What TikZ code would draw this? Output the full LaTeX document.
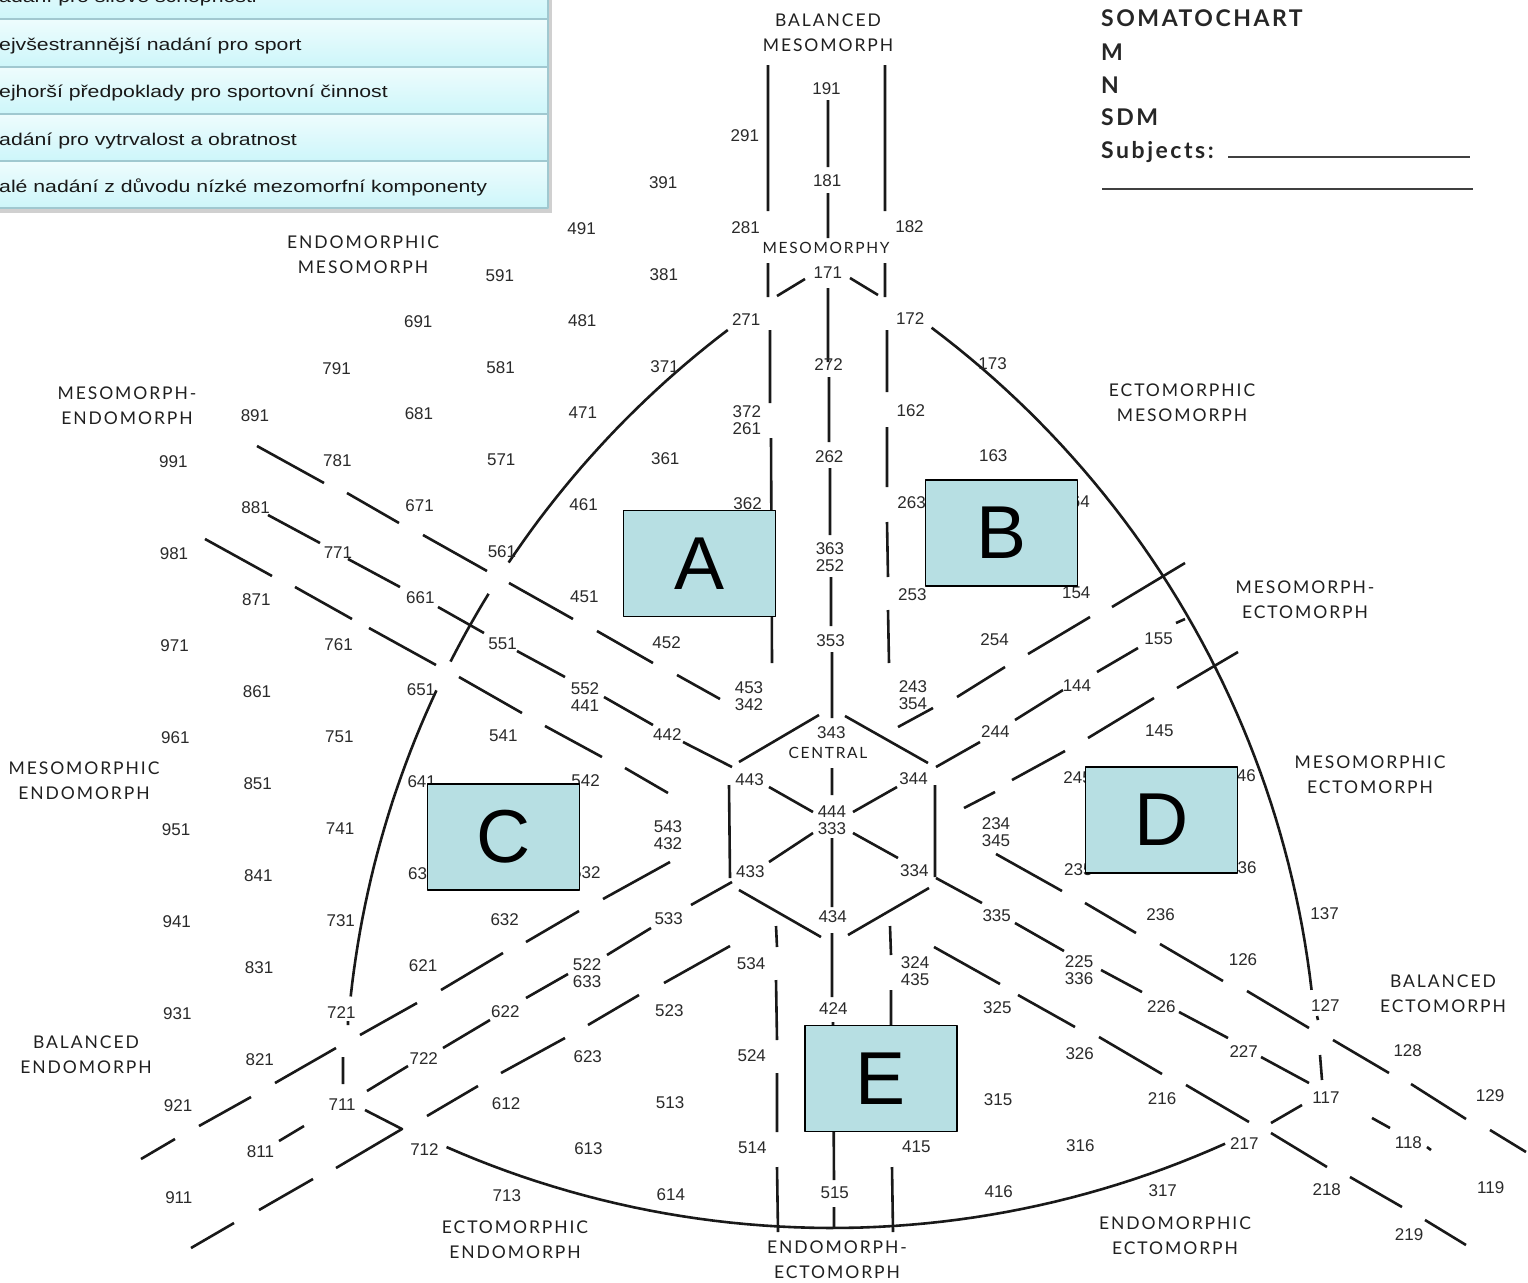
\documentclass[tikz,border=0pt]{standalone}
\usepackage{fontspec}
\usepackage{pgf,tikz}
\usepackage{graphicx}
\setmainfont{Liberation Sans}
\newfontfamily\gillfont[LetterSpace=11]{Lato}

\definecolor{inkline}{RGB}{25,25,25}
\definecolor{numgray}{RGB}{42,42,42}
\definecolor{zonegray}{RGB}{32,32,32}
\definecolor{boxfill}{RGB}{183,223,227}
\definecolor{rowtop}{RGB}{238,252,253}
\definecolor{rowbottom}{RGB}{205,246,250}
\definecolor{rowline}{RGB}{160,200,208}

\tikzset{
  chartline/.style={draw=inkline, line width=2.6pt},
  num/.style={font=\fontsize{17}{17}\selectfont, text=numgray, inner sep=0pt},
  numtwo/.style={num, align=center, yshift=-8.5pt},
  zone/.style={font=\gillfont\fontsize{17.5}{25}\selectfont, text=zonegray, align=center, inner sep=0pt},
  letterbox/.style={draw=black, line width=1.8pt, fill=boxfill, minimum width=152pt, minimum height=106pt, inner sep=0pt, font=\fontsize{75}{75}\selectfont},
  tablerow/.style={draw=rowline, line width=1.2pt, top color=rowtop, bottom color=rowbottom},
  rowtext/.style={anchor=base west, inner sep=0pt, font=\fontsize{17}{18}\selectfont, text=black!90},
  headline/.style={anchor=west, inner sep=0pt, font=\gillfont\bfseries\fontsize{23}{25}\selectfont, text=black!85}
}

\begin{document}
\begin{tikzpicture}[line cap=butt,line join=round,x=1pt,y=-1pt]
\useasboundingbox (0,0) rectangle (1528,1282);
\clip (0,0) rectangle (1528,1282);
\fill[white] (0,0) rectangle (1528,1282);

% outer arcs
\draw[chartline] plot[domain=-127.2:-146.2, samples=25] ({1313+968*cos(\x)},{1101+968*sin(\x)});
\draw[chartline] plot[domain=-148.4:-153.0, samples=8] ({1313+968*cos(\x)},{1101+968*sin(\x)});
\draw[chartline] plot[domain=-154.9:-173.8, samples=25] ({1313+968*cos(\x)},{1101+968*sin(\x)});
\draw[chartline] plot[domain=-53.1:-6.6, samples=50] ({351+967*cos(\x)},{1101+967*sin(\x)});
\draw[chartline] plot[domain=113.7:65.8, samples=50] ({832+959*cos(\x)},{269+959*sin(\x)});

% vertical lines
\draw[chartline] (828,100)--(828,167) (828,193)--(828,238) (828,288)--(828,362) (829,377)--(829,442)
  (830,468)--(830,535) (831,577)--(831,626) (832,652)--(832,718) (832,768)--(832,795)
  (832,838)--(832,907) (832,933)--(832,997) (833,1022)--(834,1180) (834,1207)--(834,1228);
\draw[chartline] (768,65)--(768,211) (768,263)--(768,297) (770,330)--(770,403) (771,438)--(772,663);
\draw[chartline] (885,65)--(885,211) (885,263)--(885,297) (887,330)--(887,392) (887,427)--(887,487)
  (887,522)--(888,577) (888,610)--(889,663);
\draw[chartline] (777,296)--(805,279) (850,278)--(878,295);
\draw[chartline] (776,926)--(777,947) (776,980)--(777,1040) (777,1073)--(777,1132) (777,1167)--(778,1232);
\draw[chartline] (890,926)--(891,955) (891,990)--(891,1100) (892,1167)--(893,1232);

% central hexagon
\draw[chartline] (739,762)--(819,715) (845,716)--(928,763) (729,785)--(730,878)
  (935,785)--(935,877) (739,890)--(821,937) (848,935)--(929,888);

% lines falling to the right
\draw[chartline] (257,446)--(324,483) (347,493)--(399,523) (423,535)--(487,571) (509,583)--(573,619)
  (597,631)--(653,663) (677,675)--(720,699);
\draw[chartline] (996,854)--(1062,891) (1085,903)--(1136,933) (1160,944)--(1223,981) (1247,991)--(1309,1028)
  (1333,1040)--(1389,1073) (1411,1084)--(1466,1119) (1490,1130)--(1526,1152);
\draw[chartline] (268,515)--(320,543) (348,559)--(400,587) (438,607)--(484,633) (517,651)--(565,677)
  (604,697)--(653,725) (683,742)--(732,767) (769,787)--(813,812) (853,833)--(898,858)
  (936,878)--(982,903) (1015,923)--(1064,951) (1101,970)--(1142,992) (1179,1012)--(1228,1038)
  (1261,1057)--(1309,1083) (1372,1118)--(1390,1128) (1427,1147)--(1431,1150);
\draw[chartline] (205,539)--(272,576) (295,587)--(352,619) (369,628)--(436,665) (459,677)--(522,713)
  (545,726)--(602,757) (625,768)--(668,793);
\draw[chartline] (934,947)--(1000,984) (1018,995)--(1075,1027) (1099,1037)--(1162,1074) (1186,1085)--(1249,1122)
  (1271,1133)--(1327,1167) (1350,1177)--(1402,1207) (1425,1220)--(1466,1245);

% lines rising to the right
\draw[chartline] (279,1141)--(304,1126) (367,1091)--(408,1066) (443,1048)--(490,1020) (526,998)--(568,974)
  (607,955)--(651,928) (691,905)--(732,882) (769,862)--(813,833) (853,812)--(897,787)
  (936,767)--(980,742) (1015,720)--(1063,690) (1097,672)--(1138,648) (1176,623)--(1185,619);
\draw[chartline] (141,1159)--(175,1139) (199,1126)--(251,1097) (275,1083)--(336,1048) (360,1035)--(417,1003)
  (441,990)--(503,953) (526,942)--(579,911) (603,899)--(670,862);
\draw[chartline] (898,727)--(933,708) (957,697)--(1005,667) (1028,654)--(1090,617) (1112,607)--(1185,563);
\draw[chartline] (191,1248)--(234,1223) (259,1210)--(313,1179) (427,1116)--(478,1086) (501,1073)--(565,1038)
  (588,1025)--(639,995) (664,983)--(730,946);
\draw[chartline] (365,1110)--(402,1129)--(336,1168);
\draw[chartline] (964,808)--(995,792) (1012,780)--(1065,751) (1088,738)--(1154,698) (1177,688)--(1238,652);

% corner pieces
\draw[chartline] (343,1057)--(343,1084) (348,1021)--(348,1025) (1320,1055)--(1322,1080)
  (1317,1016)--(1318,1020) (1302,1105)--(1271,1123);

% somatotype numbers
\begin{scope}[rotate around={0.43:(832,825)}]
\draw (832,89) node[num] (n191) {191};
\draw (750,135) node[num] (n291) {291};
\draw (668,181) node[num] (n391) {391};
\draw (832,181) node[num] (n181) {181};
\draw (586,227) node[num] (n491) {491};
\draw (750,227) node[num] (n281) {281};
\draw (914,227) node[num] (n182) {182};
\draw (504,273) node[num] (n591) {591};
\draw (668,273) node[num] (n381) {381};
\draw (832,273) node[num] (n171) {171};
\draw (422,319) node[num] (n691) {691};
\draw (586,319) node[num] (n481) {481};
\draw (750,319) node[num] (n271) {271};
\draw (914,319) node[num] (n172) {172};
\draw (340,365) node[num] (n791) {791};
\draw (504,365) node[num] (n581) {581};
\draw (668,365) node[num] (n371) {371};
\draw (832,365) node[num] (n272) {272};
\draw (996,365) node[num] (n173) {173};
\draw (258,411) node[num] (n891) {891};
\draw (422,411) node[num] (n681) {681};
\draw (586,411) node[num] (n471) {471};
\draw (750,411) node[numtwo] (n372) {372\\261};
\draw (914,411) node[num] (n162) {162};
\draw (176,457) node[num] (n991) {991};
\draw (340,457) node[num] (n781) {781};
\draw (504,457) node[num] (n571) {571};
\draw (668,457) node[num] (n361) {361};
\draw (832,457) node[num] (n262) {262};
\draw (996,457) node[num] (n163) {163};
\draw (258,503) node[num] (n881) {881};
\draw (422,503) node[num] (n671) {671};
\draw (586,503) node[num] (n461) {461};
\draw (750,503) node[num] (n362) {362};
\draw (914,503) node[num] (n263) {263};
\draw (1078,503) node[num] (n164) {164};
\draw (176,549) node[num] (n981) {981};
\draw (340,549) node[num] (n771) {771};
\draw (504,549) node[num] (n561) {561};
\draw (832,549) node[numtwo] (n363) {363\\252};
\draw (258,595) node[num] (n871) {871};
\draw (422,595) node[num] (n661) {661};
\draw (586,595) node[num] (n451) {451};
\draw (914,595) node[num] (n253) {253};
\draw (1078,595) node[num] (n154) {154};
\draw (176,641) node[num] (n971) {971};
\draw (340,641) node[num] (n761) {761};
\draw (504,641) node[num] (n551) {551};
\draw (668,641) node[num] (n452) {452};
\draw (832,641) node[num] (n353) {353};
\draw (996,641) node[num] (n254) {254};
\draw (1160,641) node[num] (n155) {155};
\draw (258,687) node[num] (n861) {861};
\draw (422,687) node[num] (n651) {651};
\draw (586,687) node[numtwo] (n552) {552\\441};
\draw (750,687) node[numtwo] (n453) {453\\342};
\draw (914,687) node[numtwo] (n243) {243\\354};
\draw (1078,687) node[num] (n144) {144};
\draw (176,733) node[num] (n961) {961};
\draw (340,733) node[num] (n751) {751};
\draw (504,733) node[num] (n541) {541};
\draw (668,733) node[num] (n442) {442};
\draw (832,733) node[num] (n343) {343};
\draw (996,733) node[num] (n244) {244};
\draw (1160,733) node[num] (n145) {145};
\draw (258,779) node[num] (n851) {851};
\draw (422,779) node[num] (n641) {641};
\draw (586,779) node[num] (n542) {542};
\draw (750,779) node[num] (n443) {443};
\draw (914,779) node[num] (n344) {344};
\draw (1078,779) node[num] (n245) {245};
\draw (1242,779) node[num] (n146) {146};
\draw (176,825) node[num] (n951) {951};
\draw (340,825) node[num] (n741) {741};
\draw (668,825) node[numtwo] (n543) {543\\432};
\draw (832,820) node[num,align=center] (n444) {444\\333};
\draw (996,825) node[numtwo] (n234) {234\\345};
\draw (258,871) node[num] (n841) {841};
\draw (422,871) node[num] (n631) {631};
\draw (586,871) node[num] (n532) {532};
\draw (750,871) node[num] (n433) {433};
\draw (914,871) node[num] (n334) {334};
\draw (1078,871) node[num] (n235) {235};
\draw (1242,871) node[num] (n136) {136};
\draw (176,917) node[num] (n941) {941};
\draw (340,917) node[num] (n731) {731};
\draw (504,917) node[num] (n632) {632};
\draw (668,917) node[num] (n533) {533};
\draw (832,917) node[num] (n434) {434};
\draw (996,917) node[num] (n335) {335};
\draw (1160,917) node[num] (n236) {236};
\draw (1324,917) node[num] (n137) {137};
\draw (258,963) node[num] (n831) {831};
\draw (422,963) node[num] (n621) {621};
\draw (586,963) node[numtwo] (n522) {522\\633};
\draw (750,963) node[num] (n534) {534};
\draw (914,963) node[numtwo] (n324) {324\\435};
\draw (1078,963) node[numtwo] (n225) {225\\336};
\draw (1242,963) node[num] (n126) {126};
\draw (176,1009) node[num] (n931) {931};
\draw (340,1009) node[num] (n721) {721};
\draw (504,1009) node[num] (n622) {622};
\draw (668,1009) node[num] (n523) {523};
\draw (832,1009) node[num] (n424) {424};
\draw (996,1009) node[num] (n325) {325};
\draw (1160,1009) node[num] (n226) {226};
\draw (1324,1009) node[num] (n127) {127};
\draw (258,1055) node[num] (n821) {821};
\draw (422,1055) node[num] (n722) {722};
\draw (586,1055) node[num] (n623) {623};
\draw (750,1055) node[num] (n524) {524};
\draw (1078,1055) node[num] (n326) {326};
\draw (1242,1055) node[num] (n227) {227};
\draw (1406,1055) node[num] (n128) {128};
\draw (176,1101) node[num] (n921) {921};
\draw (340,1101) node[num] (n711) {711};
\draw (504,1101) node[num] (n612) {612};
\draw (668,1101) node[num] (n513) {513};
\draw (996,1101) node[num] (n315) {315};
\draw (1160,1101) node[num] (n216) {216};
\draw (1324,1101) node[num] (n117) {117};
\draw (1488,1101) node[num] (n129) {129};
\draw (258,1147) node[num] (n811) {811};
\draw (422,1147) node[num] (n712) {712};
\draw (586,1147) node[num] (n613) {613};
\draw (750,1147) node[num] (n514) {514};
\draw (914,1147) node[num] (n415) {415};
\draw (1078,1147) node[num] (n316) {316};
\draw (1242,1147) node[num] (n217) {217};
\draw (1406,1147) node[num] (n118) {118};
\draw (176,1193) node[num] (n911) {911};
\draw (504,1193) node[num] (n713) {713};
\draw (668,1193) node[num] (n614) {614};
\draw (832,1193) node[num] (n515) {515};
\draw (996,1193) node[num] (n416) {416};
\draw (1160,1193) node[num] (n317) {317};
\draw (1324,1193) node[num] (n218) {218};
\draw (1488,1193) node[num] (n119) {119};
\draw (1406,1239) node[num] (n219) {219};
\end{scope}

% category names
\draw (828,33) node[zone] (balmeso) {BALANCED\\MESOMORPH};
\draw (826,248) node[zone,font=\gillfont\fontsize{15.5}{20}\selectfont] (mesomorphy) {MESOMORPHY};
\draw (828,753) node[zone,font=\gillfont\fontsize{15.5}{20}\selectfont] (central) {CENTRAL};
\draw (363,255) node[zone] (endomeso) {ENDOMORPHIC\\MESOMORPH};
\draw (127,406) node[zone] (mesoendo) {MESOMORPH-\\ENDOMORPH};
\draw (84,781) node[zone] (mesoicendo) {MESOMORPHIC\\ENDOMORPH};
\draw (86,1055) node[zone] (balendo) {BALANCED\\ENDOMORPH};
\draw (515,1240) node[zone] (ectoendo) {ECTOMORPHIC\\ENDOMORPH};
\draw (837,1260) node[zone] (endoecto) {ENDOMORPH-\\ECTOMORPH};
\draw (1175,1236) node[zone] (endoicecto) {ENDOMORPHIC\\ECTOMORPH};
\draw (1443,994) node[zone] (balecto) {BALANCED\\ECTOMORPH};
\draw (1370,775) node[zone] (mesoicecto) {MESOMORPHIC\\ECTOMORPH};
\draw (1305,600) node[zone] (mesoecto) {MESOMORPH-\\ECTOMORPH};
\draw (1182,403) node[zone] (ectomeso) {ECTOMORPHIC\\MESOMORPH};

% marked regions
\node[letterbox] (boxA) at (699.5,563.5) {A};
\node[letterbox] (boxB) at (1001.5,533) {B};
\node[letterbox] (boxC) at (503.5,837) {C};
\node[letterbox] (boxD) at (1161.5,820) {D};
\node[letterbox] (boxE) at (881,1078.5) {E};

% legend table
\fill[black!30,opacity=0.6] (-10,-24) rectangle (552,213);
\draw[tablerow] (-10,-28) rectangle (548,19);
\draw[tablerow] (-10,19) rectangle (548,67);
\draw[tablerow] (-10,67) rectangle (548,114);
\draw[tablerow] (-10,114) rectangle (548,161);
\draw[tablerow] (-10,161) rectangle (548,208);
\node[rowtext] (row1) at (-1,2) {\scalebox{1.25}[1]{adání pro silové schopnosti}};
\node[rowtext] (row2) at (-1,50) {\scalebox{1.25}[1]{ejvšestrannější nadání pro sport}};
\node[rowtext] (row3) at (-1,97.5) {\scalebox{1.25}[1]{ejhorší předpoklady pro sportovní činnost}};
\node[rowtext] (row4) at (-1,145) {\scalebox{1.25}[1]{adání pro vytrvalost a obratnost}};
\node[rowtext] (row5) at (-1,192.5) {\scalebox{1.25}[1]{alé nadání z důvodu nízké mezomorfní komponenty}};

% heading block
\node[headline] (title) at (1101,18.5) {SOMATOCHART};
\node[headline] (mline) at (1101,52) {M};
\node[headline] (nline) at (1101,85) {N};
\node[headline] (sdm) at (1101,117) {SDM};
\node[headline,anchor=base west] (subj) at (1101,158) {Subjects:};
\coordinate (s1) at (1228,157);
\coordinate (s2) at (1470,157);
\coordinate (s3) at (1102,189);
\coordinate (s4) at (1473,189);
\draw[line width=1.6pt,black!75] (s1)--(s2) (s3)--(s4);
\end{tikzpicture}
\end{document}
